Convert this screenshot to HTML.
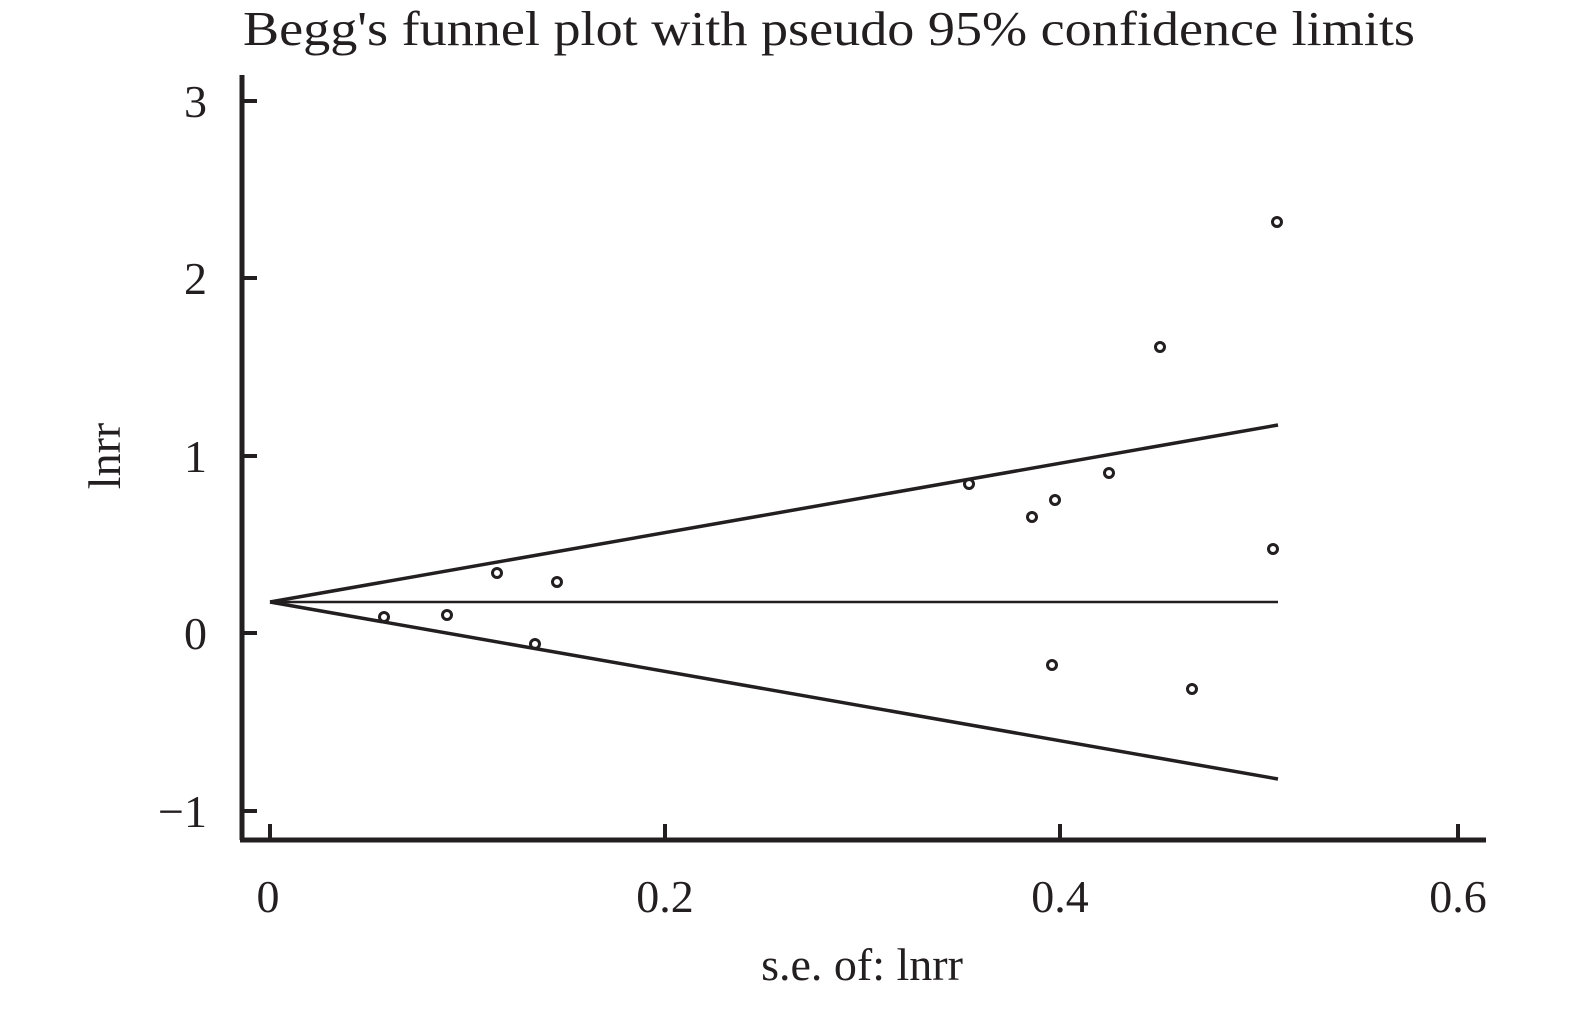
<!DOCTYPE html>
<html><head><style>body{margin:0;background:#fff}</style></head><body>
<svg width="1575" height="1004" xmlns="http://www.w3.org/2000/svg" style="font-family:'Liberation Serif',serif;fill:#231f20">
<text x="829" y="45" font-size="49" text-anchor="middle" textLength="1172" lengthAdjust="spacingAndGlyphs">Begg's funnel plot with pseudo 95% confidence limits</text>
<g stroke="#231f20" stroke-width="5">
<line x1="242" y1="75" x2="242" y2="840"/>
<line x1="240" y1="840" x2="1486" y2="840"/>
</g>
<g stroke="#231f20" stroke-width="4">
<line x1="242" y1="101" x2="257" y2="101"/>
<line x1="242" y1="278" x2="257" y2="278"/>
<line x1="242" y1="456" x2="257" y2="456"/>
<line x1="242" y1="633" x2="257" y2="633"/>
<line x1="242" y1="811" x2="257" y2="811"/>
<line x1="270" y1="824" x2="270" y2="840"/>
<line x1="665" y1="824" x2="665" y2="840"/>
<line x1="1060" y1="824" x2="1060" y2="840"/>
<line x1="1458" y1="824" x2="1458" y2="840"/>
</g>
<g font-size="46" text-anchor="end">
<text x="207" y="117">3</text>
<text x="207" y="294">2</text>
<text x="207" y="472">1</text>
<text x="207" y="649">0</text>
<text x="207" y="827">−1</text>
</g>
<g font-size="46" text-anchor="middle">
<text x="268" y="912">0</text>
<text x="665" y="912">0.2</text>
<text x="1060" y="912">0.4</text>
<text x="1458" y="912">0.6</text>
<text x="862" y="980">s.e. of: lnrr</text>
</g>
<text transform="translate(120,456) rotate(-90)" font-size="46" text-anchor="middle">lnrr</text>
<g stroke="#231f20" fill="none">
<line x1="270" y1="602" x2="1278" y2="425" stroke-width="3.5"/>
<line x1="270" y1="602" x2="1278" y2="779" stroke-width="3.5"/>
<line x1="270" y1="602" x2="1278" y2="602" stroke-width="2.5"/>
<g stroke-width="3">
<circle cx="384" cy="617" r="4.5"/><circle cx="447" cy="615" r="4.5"/><circle cx="497" cy="573" r="4.5"/>
<circle cx="535" cy="644" r="4.5"/><circle cx="557" cy="582" r="4.5"/><circle cx="969" cy="484" r="4.5"/>
<circle cx="1032" cy="517" r="4.5"/><circle cx="1055" cy="500" r="4.5"/><circle cx="1052" cy="665" r="4.5"/>
<circle cx="1109" cy="473" r="4.5"/><circle cx="1160" cy="347" r="4.5"/><circle cx="1192" cy="689" r="4.5"/>
<circle cx="1273" cy="549" r="4.5"/><circle cx="1277" cy="222" r="4.5"/>
</g>
</g>
</svg>
</body></html>
